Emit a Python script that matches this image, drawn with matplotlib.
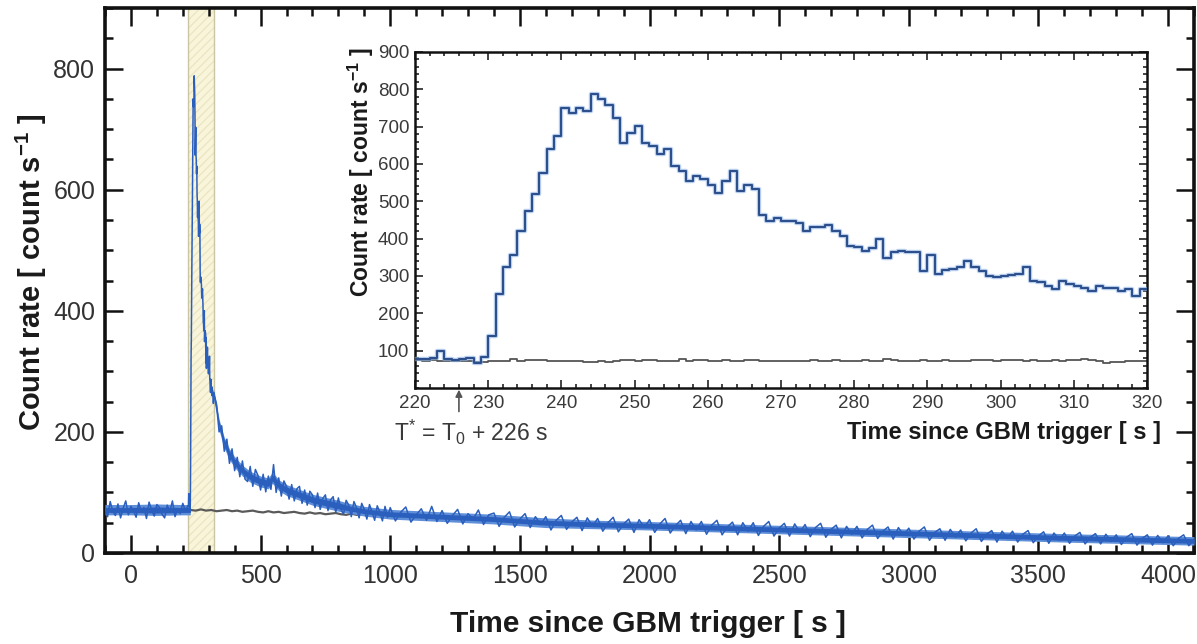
import numpy as np
import matplotlib
matplotlib.use("Agg")
import matplotlib.pyplot as plt
from matplotlib.ticker import MultipleLocator

plt.rcParams['font.family'] = ['Liberation Sans', 'DejaVu Sans']
plt.rcParams['mathtext.fontset'] = 'custom'
plt.rcParams['mathtext.rm'] = 'Liberation Sans'
plt.rcParams['mathtext.it'] = 'Liberation Sans:italic'
plt.rcParams['mathtext.bf'] = 'Liberation Sans:bold'
plt.rcParams['mathtext.default'] = 'regular'
plt.rcParams['hatch.linewidth'] = 0.9

# ---------------- light-curve data (count s^-1) ----------------
# pre-burst, 10 s bins starting at -100 s
pre_start, pre_step = -100, 10
pre_rate = [78, 60, 85, 69, 62, 81, 58, 74, 86, 63, 77, 70, 59, 83, 67, 75,
            57, 84, 71, 61, 80, 75, 64, 58, 79, 68, 86, 60, 73, 65, 82, 70]

# burst, 1 s bins starting at 220 s
burst_start, burst_step = 220, 1
burst_rate = [78, 78, 80, 98, 78, 76, 78, 80, 68, 82,
              140, 251, 325, 355, 420, 474, 519, 577, 639, 675,
              750, 737, 749, 743, 788, 773, 759, 724, 657, 684,
              703, 657, 648, 626, 639, 594, 581, 554, 568, 559,
              545, 523, 554, 581, 528, 543, 532, 463, 447, 456,
              447, 447, 443, 421, 430, 430, 436, 421, 407, 381,
              379, 367, 376, 400, 349, 365, 367, 365, 363, 314,
              356, 305, 316, 320, 325, 340, 323, 314, 300, 296,
              300, 302, 305, 325, 287, 283, 274, 265, 287, 278,
              274, 269, 260, 274, 269, 269, 260, 265, 247, 265]

# background estimate over the burst window, 1 s bins starting at 220 s
burst_bkg = [74, 73, 74, 72, 73, 72, 73, 72, 69, 70,
             71, 72, 73, 77, 73, 76, 75, 74, 73, 72,
             72, 73, 71, 70, 70, 71, 70, 73, 74, 74,
             73, 74, 75, 73, 72, 71, 78, 73, 74, 75,
             73, 72, 75, 71, 73, 74, 75, 73, 73, 73,
             72, 73, 72, 73, 74, 73, 72, 76, 73, 72,
             73, 74, 73, 72, 77, 74, 73, 72, 73, 74,
             72, 73, 74, 72, 73, 73, 74, 75, 74, 73,
             74, 75, 74, 73, 74, 72, 71, 74, 73, 76,
             74, 78, 74, 71, 68, 70, 70, 71, 72, 73]

# early decay, 10 s bins starting at 320 s
decay_start, decay_step = 320, 10
decay_rate = [262, 246, 200, 210, 168, 188, 148, 172, 136, 158,
              126, 152, 122, 118, 143, 110, 138, 128, 104, 130,
              101, 127, 105, 146, 100, 124, 94, 119, 110, 89,
              113, 86, 106, 110, 82, 104, 79, 102, 96, 75,
              99, 72, 90, 96, 70, 88, 93, 67, 91, 72,
              64, 87, 79, 60, 85, 75, 58, 82, 72, 56,
              80, 68, 54, 78, 67, 53, 77, 59]

# late tail, 20 s bins starting at 1000 s
tail_start, tail_step = 1000, 20
tail_rate = [75, 53, 67, 76, 51, 63, 73, 54, 77, 52,
             70, 49, 62, 72, 48, 65, 56, 71, 47, 63,
             66, 44, 59, 68, 43, 56, 65, 42, 60, 47,
             60, 38, 54, 62, 39, 51, 59, 37, 58, 44,
             57, 36, 50, 59, 35, 48, 56, 34, 55, 42,
             55, 34, 48, 57, 33, 45, 54, 32, 52, 38,
             52, 31, 46, 54, 30, 43, 51, 30, 50, 36,
             50, 29, 44, 52, 28, 41, 49, 28, 48, 34,
             47, 27, 42, 49, 26, 39, 46, 25, 44, 31,
             44, 25, 39, 46, 24, 36, 43, 23, 42, 29,
             41, 23, 36, 43, 21, 34, 40, 21, 39, 26,
             38, 20, 33, 40, 19, 31, 37, 18, 36, 24,
             36, 18, 31, 37, 17, 28, 35, 16, 33, 21,
             33, 16, 28, 34, 15, 26, 32, 15, 31, 19,
             30, 14, 26, 32, 13, 24, 30, 13, 29, 17,
             28, 12, 24, 30, 12, 23]

# scatter of the fine-binned rate: outer envelope and dense core
pre_band_t = [-100, 0, 100, 200, 229]
pre_outer_lo = [63, 63, 62, 63, 63]
pre_outer_hi = [80, 80, 81, 80, 80]
pre_core_lo = [67, 67, 66, 67, 67]
pre_core_hi = [75, 75, 76, 75, 76]

post_band_t = [319, 330, 340, 350, 360, 380, 400, 430, 460, 500, 530, 545,
               555, 570, 600, 650, 700, 750, 800, 850, 900, 1000, 1200, 1400,
               1600, 1800, 2000, 2400, 2800, 3200, 3600, 4000, 4100]
post_outer_lo = [253, 229, 203, 187, 173, 154, 141, 127, 117, 109, 106, 115,
                 111, 103, 95, 87, 79, 74, 69, 65, 61, 56, 52, 48,
                 42, 40, 38, 33, 28, 23, 18, 14, 13]
post_outer_hi = [271, 247, 221, 205, 191, 172, 159, 145, 135, 127, 124, 133,
                 129, 121, 113, 105, 97, 92, 87, 81, 77, 72, 68, 64,
                 58, 54, 52, 47, 42, 37, 32, 28, 27]
post_core_lo = [257, 233, 207, 191, 177, 158, 145, 131, 121, 113, 110, 119,
                115, 107, 99, 91, 83, 78, 73, 69, 65, 60, 56, 52,
                46, 43, 41, 36, 31, 26, 21, 17, 16]
post_core_hi = [267, 243, 217, 201, 187, 168, 155, 141, 131, 123, 120, 129,
                125, 117, 109, 101, 93, 88, 83, 77, 73, 68, 64, 60,
                54, 51, 49, 44, 39, 34, 29, 25, 24]

# background model after the burst, 20 s bins starting at 230 s
bkg_start, bkg_step = 230, 20
bkg_rate = [71, 70, 72, 70, 71, 69, 70, 71, 69, 70,
            68, 69, 70, 68, 67, 69, 67, 68, 66, 67,
            68, 66, 65, 67, 65, 66, 64, 65, 66, 64,
            63, 65, 63, 64, 62, 63, 64, 62, 61]

window = (220, 320)
t_star = 226

main_xticks = [0, 500, 1000, 1500, 2000, 2500, 3000, 3500, 4000]
main_yticks = [0, 200, 400, 600, 800]
inset_xticks = [220, 230, 240, 250, 260, 270, 280, 290, 300, 310, 320]
inset_yticks = [100, 200, 300, 400, 500, 600, 700, 800, 900]


def bins(start, step, values):
    return start + step * np.arange(len(values))


t_pre = bins(pre_start, pre_step, pre_rate)
t_burst = bins(burst_start, burst_step, burst_rate)
t_decay = bins(decay_start, decay_step, decay_rate)
t_tail = bins(tail_start, tail_step, tail_rate)
t_bkg = bins(bkg_start, bkg_step, bkg_rate)

t_all = np.concatenate([t_pre, t_burst, t_decay, t_tail])
r_all = np.concatenate([pre_rate, burst_rate, decay_rate, tail_rate])

W, H = 1197, 644
fig = plt.figure(figsize=(W / 100, H / 100), dpi=100)
blue = '#2b5fbd'
blue_light = '#5f8fd8'

# ---------------- main panel ----------------
ax = fig.add_axes([105 / W, 1 - 553 / H, 1089 / W, 545 / H])
ax.set_xlim(-100, 4100)
ax.set_ylim(0, 900)

ax.axvspan(*window, facecolor='#f9f5da', edgecolor='#ebe4c2', hatch='////',
           linewidth=0, zorder=1)
for xv in window:
    ax.axvline(xv, color='#cbc6a2', lw=1.0, zorder=1.5)

ax.plot(t_bkg, bkg_rate, color='#5a5a5a', lw=1.6, zorder=2)
ax.fill_between(pre_band_t, pre_outer_lo, pre_outer_hi, color=blue_light,
                lw=0, zorder=3)
ax.fill_between(post_band_t, post_outer_lo, post_outer_hi, color=blue_light,
                lw=0, zorder=3)
ax.fill_between(pre_band_t, pre_core_lo, pre_core_hi, color=blue, lw=0,
                zorder=3.2)
ax.fill_between(post_band_t, post_core_lo, post_core_hi, color=blue, lw=0,
                zorder=3.2)
ax.plot(t_all, r_all, color=blue, lw=1.1, zorder=3.5)

ax.set_xticks(main_xticks)
ax.set_yticks(main_yticks)
ax.xaxis.set_minor_locator(MultipleLocator(100))
ax.yaxis.set_minor_locator(MultipleLocator(50))
ax.tick_params(which='both', direction='in', top=True, right=True,
               width=1.8, color='#111111')
ax.tick_params(which='major', length=13, labelsize=18, labelcolor='#333333')
ax.tick_params(which='minor', length=6)
ax.tick_params(axis='x', which='major', pad=8)
ax.tick_params(axis='y', which='major', pad=7)
for sp in ax.spines.values():
    sp.set_linewidth(2.6)
    sp.set_color('#111111')

fig.text(648 / W, 1 - 624 / H, 'Time since GBM trigger [ s ]', ha='center',
         va='center', fontsize=21.5, fontweight='bold', color='#1a1a1a')
fig.text(31 / W, 1 - 272 / H, r'Count rate [ count s$^{\mathbf{-1}}$ ]',
         rotation=90, ha='center', va='center', fontsize=21,
         fontweight='bold', color='#1a1a1a')

# ---------------- inset: zoom on the burst window ----------------
axi = fig.add_axes([415 / W, 1 - 388 / H, 732 / W, 336 / H])
axi.set_facecolor('white')
axi.set_xlim(*window)
axi.set_ylim(0, 900)

t_edges = np.append(t_burst, window[1])
axi.step(t_edges, np.append(burst_bkg, burst_bkg[-1]),
         where='post', color='#555555', lw=1.3, zorder=2)
axi.step(t_edges, np.append(burst_rate, burst_rate[-1]),
         where='post', color='#8fb3e6', lw=3.2, alpha=0.6, zorder=3)
axi.step(t_edges, np.append(burst_rate, burst_rate[-1]),
         where='post', color='#2d4f8c', lw=1.5, zorder=4)

axi.set_xticks(inset_xticks)
axi.set_yticks(inset_yticks)
axi.xaxis.set_minor_locator(MultipleLocator(2))
axi.yaxis.set_minor_locator(MultipleLocator(20))
axi.tick_params(which='both', direction='in', top=True, right=True,
                width=1.1, color='#111111')
axi.tick_params(which='major', length=6, labelsize=13.5, labelcolor='#3a3a3a')
axi.tick_params(which='minor', length=3)
axi.tick_params(axis='x', which='major', pad=5)
axi.tick_params(axis='y', which='major', pad=4)
for sp in axi.spines.values():
    sp.set_linewidth(1.8)
    sp.set_color('#111111')

fig.text(361 / W, 1 - 172 / H, r'Count rate [ count s$^{\mathbf{-1}}$ ]',
         rotation=90, ha='center', va='center', fontsize=16.5,
         fontweight='bold', color='#1a1a1a')
fig.text(1161 / W, 1 - 432 / H, 'Time since GBM trigger [ s ]', ha='right',
         va='center', fontsize=17, fontweight='bold', color='#1a1a1a')
fig.text(394 / W, 1 - 432 / H, r'T$^{*}$ = T$_{0}$ + 226 s', ha='left',
         va='center', fontsize=16.5, color='#3a3a3a')

axi.annotate('', xy=(t_star, -0.005), xycoords=('data', 'axes fraction'),
             xytext=(t_star, -0.07), textcoords=('data', 'axes fraction'),
             arrowprops=dict(arrowstyle='-|>', color='#555555', lw=1.2,
                             mutation_scale=10, shrinkA=0, shrinkB=0),
             annotation_clip=False)

fig.savefig('out.png', dpi=100)
